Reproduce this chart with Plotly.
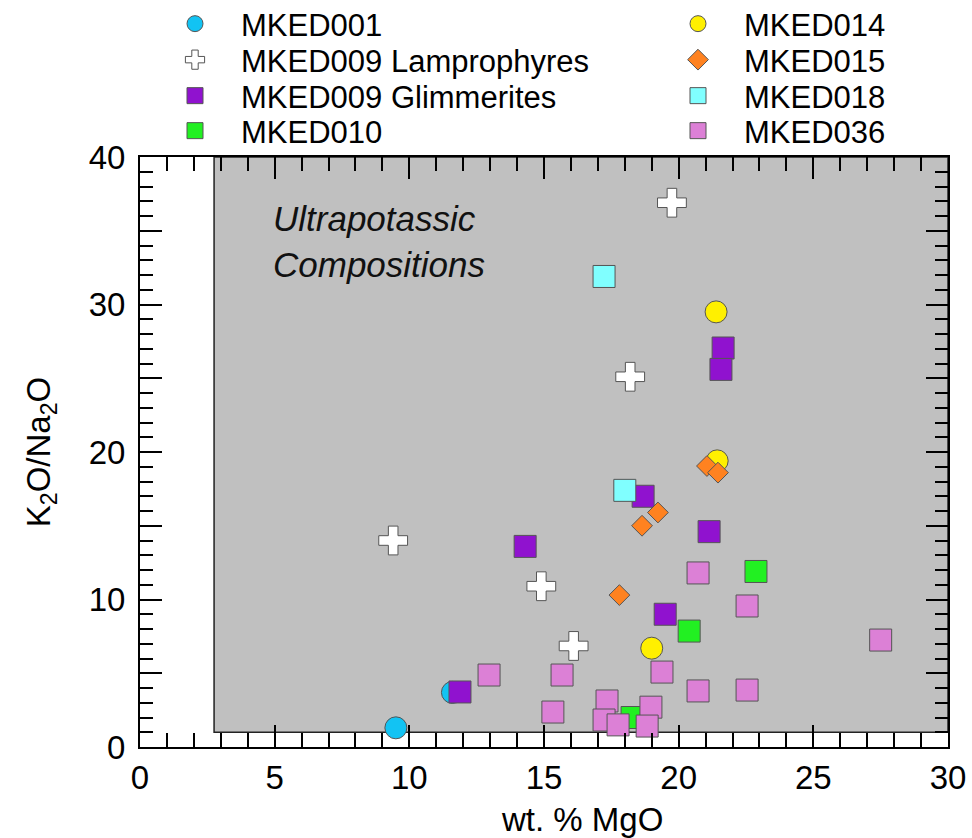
import plotly.graph_objects as go

# ---- data: wt.% MgO (x) and K2O/Na2O (y) per sample group ----
mked001_mgo = [9.5, 11.6]
mked001_ratio = [1.3, 3.7]

mked009_lamp_mgo = [19.75, 18.2, 9.4, 14.9, 16.1]
mked009_lamp_ratio = [36.9, 25.1, 14.0, 10.9, 6.85]

mked009_glim_mgo = [21.65, 21.57, 18.68, 14.3, 21.13, 19.5, 11.88]
mked009_glim_ratio = [27.05, 25.6, 17.0, 13.6, 14.6, 9.0, 3.73]

mked010_mgo = [22.87, 20.39, 18.27]
mked010_ratio = [11.9, 7.86, 2.0]

mked014_mgo = [21.39, 21.43, 19.0]
mked014_ratio = [29.5, 19.4, 6.7]

mked015_mgo = [21.05, 21.46, 19.23, 18.64, 17.8]
mked015_ratio = [19.05, 18.6, 15.9, 15.0, 10.3]

mked018_mgo = [17.23, 18.0]
mked018_ratio = [31.9, 17.4]

mked036_mgo = [20.72, 22.54, 27.5, 12.96, 15.67, 19.38, 20.72, 22.54,
               15.33, 17.34, 17.23, 17.75, 18.97, 18.83]
mked036_ratio = [11.8, 9.56, 7.25, 4.88, 4.88, 5.08, 3.8, 3.86,
                 2.37, 3.12, 1.83, 1.5, 2.7, 1.42]

# ultrapotassic field (MgO > 3 wt.%, K2O/Na2O > 1)
field_x = [2.75, 30]
field_y = [1, 40]

x_ticks = [0, 5, 10, 15, 20, 25, 30]

FONT = "Liberation Sans, Arial, Helvetica, sans-serif"
OUTLINE = "#555555"

series = [
    ("MKED001", mked001_mgo, mked001_ratio, "circle", 22, "#12C3F3"),
    ("MKED009 Lamprophyres", mked009_lamp_mgo, mked009_lamp_ratio, "cross", 24, "#FFFFFF"),
    ("MKED009 Glimmerites", mked009_glim_mgo, mked009_glim_ratio, "square", 22, "#9012CF"),
    ("MKED010", mked010_mgo, mked010_ratio, "square", 22, "#22F022"),
    ("MKED014", mked014_mgo, mked014_ratio, "circle", 22, "#FFF000"),
    ("MKED015", mked015_mgo, mked015_ratio, "diamond", 16, "#FF8220"),
    ("MKED018", mked018_mgo, mked018_ratio, "square", 22, "#80FFFF"),
    ("MKED036", mked036_mgo, mked036_ratio, "square", 22, "#DC80D6"),
]

# legend slots: (left pixel, centre pixel row) in a 972x838 page
W, H = 972, 838
ML, MR, MT, MB = 140, 24, 157, 91
PW, PH = W - ML - MR, H - MT - MB
legend_rows = [24, 60, 96, 131]
legend_cols = [149, 652]

fig = go.Figure()
layout_legends = {}
for i, (name, xs, ys, sym, size, color) in enumerate(series):
    key = "legend" if i == 0 else f"legend{i + 1}"
    fig.add_trace(go.Scatter(
        x=xs, y=ys, mode="markers", name=name, legend=key,
        marker=dict(symbol=sym, size=size, color=color,
                    line=dict(color=OUTLINE, width=1)),
    ))
    col, row = divmod(i, 4)
    px, py = legend_cols[col], legend_rows[row]
    layout_legends[key] = dict(
        x=(px - ML) / PW, y=(H - MB - py) / PH,
        xanchor="left", yanchor="middle",
        bgcolor="rgba(0,0,0,0)", borderwidth=0,
        font=dict(family=FONT, size=31, color="black"),
        itemsizing="trace", itemwidth=82,
    )

fig.add_shape(type="rect", xref="x", yref="y",
              x0=field_x[0], x1=field_x[1], y0=field_y[0], y1=field_y[1],
              fillcolor="#C0C0C0", line=dict(color="#222222", width=1.5),
              layer="below")

fig.add_annotation(x=4.85, y=34.25, xref="x", yref="y",
                   text="<i>Ultrapotassic<br>Compositions</i>",
                   showarrow=False, xanchor="left", yanchor="middle", align="left",
                   font=dict(family=FONT, size=35, color="#111111"))

fig.add_annotation(x=(582 - ML) / PW, y=(H - MB - 819) / PH, xref="paper", yref="paper",
                   text="wt. % MgO", showarrow=False,
                   xanchor="center", yanchor="middle",
                   font=dict(family=FONT, size=33, color="black"))

axis_common = dict(
    showgrid=False, zeroline=False, showline=True, linecolor="black", linewidth=2,
    mirror="ticks", ticks="inside", ticklen=22, tickwidth=2, tickcolor="black",
    tickfont=dict(family=FONT, size=33, color="black"),
)

fig.update_xaxes(range=[0, 30], tickvals=x_ticks,
                 minor=dict(dtick=1, ticks="inside", ticklen=14, tickwidth=2, tickcolor="black"),
                 ticklabelstandoff=0, **axis_common)
fig.update_yaxes(range=[0, 40], tickmode="linear", tick0=0, dtick=5, ticklabelstep=2,
                 minor=dict(dtick=1, ticks="inside", ticklen=13, tickwidth=2, tickcolor="black"),
                 ticklabelstandoff=6,
                 title=dict(text="K<sub>2</sub>O/Na<sub>2</sub>O",
                            font=dict(family=FONT, size=33, color="black"), standoff=28),
                 **axis_common)

fig.update_layout(
    width=W, height=H,
    margin=dict(l=ML, r=MR, t=MT, b=MB, autoexpand=False),
    paper_bgcolor="white", plot_bgcolor="white",
    showlegend=True,
    **layout_legends,
)

fig.write_html("out.html", config={"displayModeBar": False})
